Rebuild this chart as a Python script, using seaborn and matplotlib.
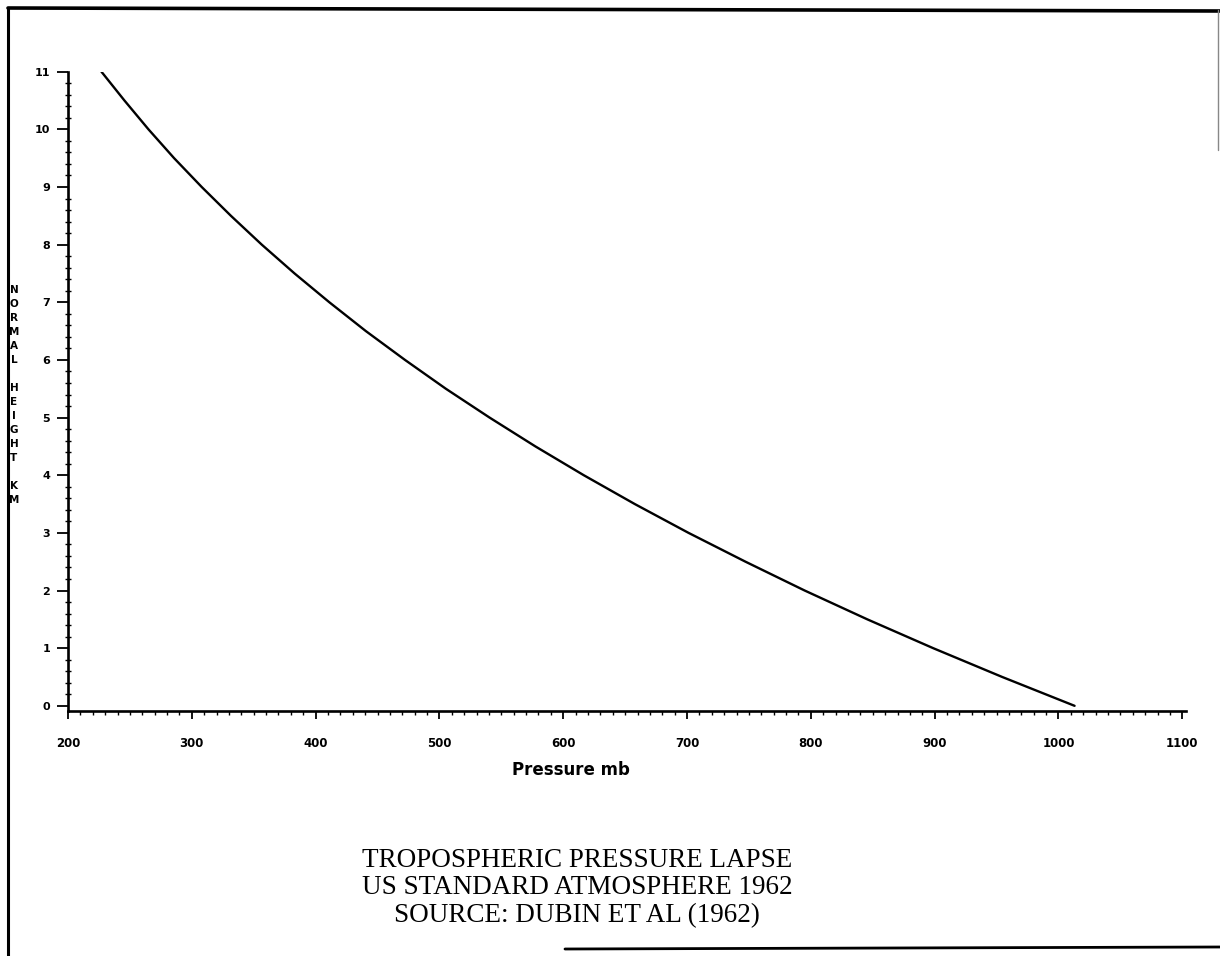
import matplotlib
matplotlib.use("Agg")
import matplotlib.pyplot as plt
from matplotlib.lines import Line2D
from matplotlib.ticker import MultipleLocator
import seaborn as sns
import pandas as pd

# Standard atmosphere: height (km) against pressure (mb)
height_km = [0.0, 0.5, 1.0, 1.5, 2.0, 2.5, 3.0, 3.5, 4.0, 4.5, 5.0, 5.5,
             6.0, 6.5, 7.0, 7.5, 8.0, 8.5, 9.0, 9.5, 10.0, 10.5, 11.0]
pressure_mb = [1013.0, 954.6, 898.8, 845.6, 795.0, 747.2, 701.2, 657.8,
               616.6, 577.5, 540.5, 505.2, 472.2, 440.6, 411.1, 383.0,
               356.5, 331.6, 308.0, 285.7, 265.0, 245.6, 227.0]

x_ticks = [200, 300, 400, 500, 600, 700, 800, 900, 1000, 1100]
y_ticks = list(range(0, 12))

title_lines = ["TROPOSPHERIC PRESSURE LAPSE",
               "US STANDARD ATMOSPHERE 1962",
               "SOURCE: DUBIN ET AL (1962)"]
x_label = "Pressure mb"
y_label = "NORMAL HEIGHT KM"

sns.set_style("ticks")
plt.rcParams["font.family"] = ["DejaVu Sans"]
plt.rcParams["text.color"] = "black"

df = pd.DataFrame({"pressure": pressure_mb, "height": height_km})

fig = plt.figure(figsize=(12.2, 9.56), dpi=100)
ax = fig.add_axes([68 / 1220, 245 / 956, 1118 / 1220, 639.3 / 956])

sns.lineplot(data=df, x="pressure", y="height", sort=False, estimator=None,
             color="black", linewidth=1.7, ax=ax)

ax.set_xlim(200, 1103)
ax.set_ylim(-0.09, 11)
ax.set_xticks(x_ticks)
ax.set_yticks(y_ticks)
ax.xaxis.set_minor_locator(MultipleLocator(10))
ax.yaxis.set_minor_locator(MultipleLocator(0.2))

for side in ("top", "right"):
    ax.spines[side].set_visible(False)
for side in ("left", "bottom"):
    ax.spines[side].set_linewidth(1.9)
    ax.spines[side].set_color("black")

ax.tick_params(axis="x", which="major", direction="out", length=6, width=1.3,
               pad=13, labelsize=8.5, colors="black", labelcolor="black")
ax.tick_params(axis="y", which="major", direction="out", length=8, width=1.3,
               pad=5, labelsize=8, colors="black", labelcolor="black")
ax.tick_params(axis="x", which="minor", direction="out", length=3, width=1.0,
               colors="black")
ax.tick_params(axis="y", which="minor", direction="inout", length=5, width=1.0,
               colors="black")
for lab in ax.get_xticklabels() + ax.get_yticklabels():
    lab.set_fontweight("bold")

ax.set_xlabel("")
ax.set_ylabel("")

# Axis captions
fig.text(571 / 1220, 1 - 770 / 956, x_label, ha="center", va="center",
         fontsize=12, fontweight="bold", color="black")
fig.text(14 / 1220, 1 - 395 / 956, "\n".join(y_label), ha="center",
         va="center", fontsize=7.5, fontweight="bold", linespacing=1.5,
         color="black")

# Title block beneath the plot
fig.text(577 / 1220, 1 - 888 / 956, "\n".join(title_lines), ha="center",
         va="center", multialignment="center", fontsize=19.5,
         family="Liberation Serif", linespacing=1.13, color="black")

# Page frame
frame = [
    ((8, 8), (8, 956), 2.2, "black"),
    ((8, 1220), (8, 11), 2.6, "black"),
    ((565, 1220), (949, 947), 2.0, "black"),
    ((1218, 1218), (10, 150), 1.0, "#888888"),
]
for xs, ys, lw, col in frame:
    fig.add_artist(Line2D([x / 1220 for x in xs], [1 - y / 956 for y in ys],
                          transform=fig.transFigure, color=col, linewidth=lw))

fig.savefig("out.png", dpi=100, facecolor="white")
